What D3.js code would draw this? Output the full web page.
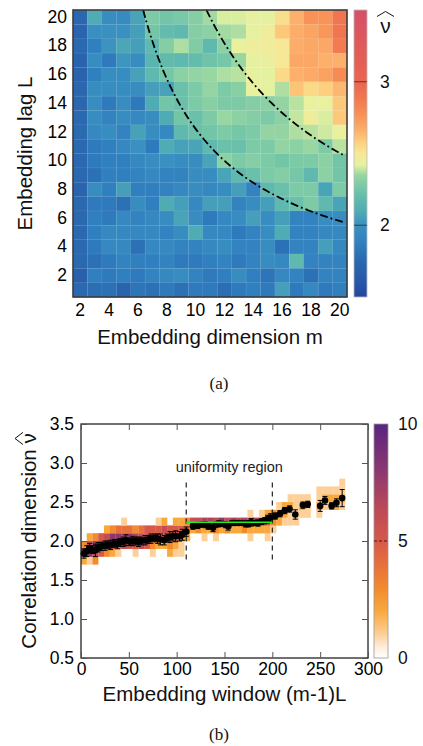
<!DOCTYPE html>
<html>
<head>
<meta charset="utf-8">
<script src="https://cdn.jsdelivr.net/npm/d3@7"></script>
<style>
body { margin: 0; background: #fff; }
</style>
</head>
<body>
<svg id="fig" width="423" height="746" font-family='"Liberation Sans", Arial, sans-serif'></svg>
<script>
// ---------- panel (a): heatmap data ----------
var dims = d3.range(2, 21);          // embedding dimension m
var lags = d3.range(1, 21);          // embedding lag L
var dimTicks = [2, 4, 6, 8, 10, 12, 14, 16, 18, 20];
var lagTicks = [2, 4, 6, 8, 10, 12, 14, 16, 18, 20];
// rows from L = 20 (top) down to L = 1, columns m = 2..20
var nuGrid = [
  [1.74,2.10,1.98,1.96,2.07,2.28,2.25,2.27,2.30,2.36,2.41,2.41,2.43,2.43,2.53,2.66,2.77,2.76,2.90],
  [1.72,1.99,2.00,2.00,2.05,2.25,2.20,2.18,2.30,2.32,2.36,2.37,2.43,2.47,2.60,2.67,2.70,2.75,2.90],
  [1.75,1.88,2.01,2.08,2.05,2.18,2.30,2.37,2.29,2.18,2.32,2.44,2.46,2.47,2.50,2.67,2.69,2.69,2.87],
  [1.70,1.98,1.85,2.02,1.98,2.15,2.19,2.18,2.20,2.24,2.26,2.35,2.43,2.45,2.50,2.69,2.69,2.66,2.66],
  [1.70,1.88,1.98,1.98,2.06,2.18,2.26,2.32,2.34,2.35,2.37,2.38,2.43,2.42,2.55,2.66,2.68,2.71,2.80],
  [1.74,1.98,1.98,1.98,1.97,2.05,2.06,2.22,2.28,2.34,2.28,2.31,2.44,2.43,2.37,2.61,2.55,2.58,2.64],
  [1.74,1.98,1.85,1.98,1.84,2.10,2.25,2.22,2.28,2.31,2.28,2.28,2.30,2.32,2.34,2.38,2.44,2.44,2.60],
  [1.75,1.98,1.90,1.98,1.95,1.98,2.10,2.25,2.22,2.28,2.35,2.32,2.30,2.28,2.32,2.39,2.47,2.41,2.60],
  [1.76,1.95,1.98,1.90,2.06,1.98,1.95,2.18,2.22,2.25,2.28,2.26,2.28,2.34,2.34,2.37,2.38,2.40,2.44],
  [1.75,1.85,1.88,1.95,2.00,1.85,2.10,2.06,2.07,2.18,2.22,2.22,2.28,2.28,2.34,2.32,2.35,2.28,2.38],
  [1.75,1.85,1.88,1.88,1.95,1.98,2.00,1.98,1.98,2.07,2.32,2.28,2.30,2.28,2.25,2.28,2.28,2.32,2.25],
  [1.75,1.80,1.88,1.88,1.90,1.95,1.90,1.90,1.98,1.98,2.07,2.18,2.22,2.28,2.30,2.26,2.18,2.32,2.25],
  [1.72,1.98,1.88,2.05,1.88,1.88,1.90,1.95,1.98,1.95,1.98,2.05,1.90,2.18,2.22,2.28,2.28,2.07,2.28],
  [1.75,1.85,1.85,1.80,1.98,1.88,2.10,2.05,1.95,2.05,2.05,1.90,1.98,2.05,2.18,2.22,2.28,2.18,2.07],
  [1.75,1.88,1.85,1.95,1.90,1.95,1.98,2.07,1.98,1.85,1.95,1.98,2.05,1.98,2.05,1.90,1.90,1.98,1.98],
  [1.75,1.88,1.95,1.95,1.95,1.95,1.90,1.98,2.10,1.95,1.95,1.85,1.90,1.98,2.10,1.90,1.90,1.95,1.95],
  [1.75,1.85,1.95,1.95,1.80,1.95,1.95,1.90,1.90,1.95,1.98,1.90,1.90,1.98,1.80,1.90,1.90,2.05,1.95],
  [1.75,1.80,1.85,1.90,1.88,1.88,1.90,1.85,1.85,1.88,1.90,1.85,1.90,1.98,1.95,2.18,1.90,1.90,1.90],
  [1.68,1.88,1.85,1.88,1.85,1.90,1.95,1.98,1.90,1.85,1.88,1.98,1.88,1.82,1.95,1.90,1.80,1.90,1.90],
  [1.75,1.78,1.80,1.72,1.82,1.80,1.85,1.80,1.85,1.85,1.78,1.85,1.88,1.85,2.05,1.85,1.95,1.85,1.88]
];
var windowCurves = [110, 200];   // (m-1)L = const guide curves
var nuBarTicks = [2, 3];
var nuStops  = [1.5, 1.6, 1.75, 1.88, 2.0, 2.1, 2.2, 2.28, 2.35, 2.42, 2.5, 2.58, 2.66, 2.76, 2.88, 3.0, 3.25, 3.5];
var nuColors = ["#2446a0","#2856a8","#2a68b0","#3080c0","#3a90c0","#50acb4","#64bcac","#7ccaa6","#98d6a2",
                "#e4f2a0","#f6e896","#fcd07e","#fcb06c","#f89458","#f27850","#ec6450","#e05a5a","#d64f6a"];

// ---------- panel (b): histogram + means ----------
var histX  = [0,6,12,18,24,30,36,42,48,54,60,66,72,78,84,90,96,102,108,114,120,126,132,138,144,150,156,162,168,174,180,186,192,198,204,210,216,222,228,234,246,252,258,264,270];
var histY0 = [1.7,1.7,1.7,1.8,1.8,1.8,1.8,1.9,1.9,1.8,1.9,1.9,1.8,1.9,1.9,1.8,1.8,1.8,2.0,2.1,2.1,2.0,2.1,2.0,2.1,2.1,2.1,2.1,2.1,2.0,2.1,2.1,2.0,2.1,2.2,2.2,2.2,2.2,2.3,2.3,2.3,2.4,2.4,2.4,2.4];
var histN  = [
  [2,9,3],[1,8,6,2],[3,6,8,3],[5,9,5],[3,7,6,2],[2,6,8,3],[1,5,8,4],[6,7,4,1],[5,8,4],[1,5,7,3],
  [6,6,4],[5,6,5],[1,3,6,5],[2,6,5,1],[2,5,6,2],[2,3,5,5],[1,2,4,5,2],[1,1,3,5,2],[2,4,3],
  [2,6],[3,6],[1,2,7],[2,7],[1,3,6],[2,8],[3,6],[2,7],[2,6],[3,7],[1,2,7,1],[2,7],[2,6,1],[1,2,5,2],
  [1,3,3],[2,2,1],[1,2,2],[1,1,2,1],[1,1,1,1],[1,2,1],[1,1,1],[1,2,1,1],[1,2,1],[1,2,1],[2,2,1],[1,2,1,1]
];
var histBinW = 6, histBinH = 0.1;
var winX = [3,6,9,12,15,18,21,25,28,31,35,38,41,44,47,51,54,57,60,63,67,70,73,77,80,83,87,90,93,96,99,103,106,110,
  117,122,126,130,133,138,141,144,148,151,154,158,161,165,168,172,175,178,182,185,189,192,195,198,
  203,208,213,218,224,232,237,250,255,262,267,273];
var nuMean = [1.84,1.87,1.91,1.89,1.88,1.92,1.93,1.94,1.95,1.95,1.97,1.96,1.98,1.99,2.01,1.99,2.00,2.00,1.99,2.00,
  2.01,2.02,2.03,2.04,2.03,2.02,2.01,2.04,2.05,2.06,2.06,2.06,2.08,2.12,
  2.19,2.20,2.21,2.21,2.19,2.17,2.21,2.22,2.22,2.21,2.19,2.23,2.23,2.23,2.23,2.22,2.22,2.24,2.23,2.23,2.25,2.26,2.28,2.30,
  2.32,2.35,2.39,2.41,2.34,2.46,2.47,2.45,2.52,2.45,2.49,2.55];
var nuErr = [0.06,0.07,0.06,0.05,0.08,0.06,0.05,0.06,0.05,0.06,0.05,0.06,0.05,0.06,0.07,0.05,0.06,0.05,0.06,0.05,
  0.06,0.05,0.06,0.05,0.06,0.07,0.06,0.05,0.07,0.06,0.07,0.06,0.07,0.06,
  0.04,0.04,0.03,0.04,0.04,0.05,0.03,0.04,0.03,0.04,0.05,0.03,0.03,0.03,0.03,0.04,0.04,0.05,0.03,0.04,0.04,0.04,0.05,0.05,
  0.04,0.04,0.04,0.04,0.06,0.04,0.04,0.07,0.05,0.04,0.05,0.11];
var regionBounds = [110, 200];
var regionLevel = 2.24;
var winTicks = [0, 50, 100, 150, 200, 250, 300];
var nuTicks = [0.5, 1.0, 1.5, 2.0, 2.5, 3.0, 3.5];
var cntTicks = [0, 5, 10];
var cntStops  = [0, 0.5, 1, 2, 3, 4, 5, 6.5, 8, 10];
var cntColors = ["#ffffff","#feecd8","#fdd09a","#f9a83c","#f28a2e","#e8703a","#d85848","#b8485a","#8c3870","#5a2480"];

var FONT = '"Liberation Sans", Arial, sans-serif';
var SERIF = '"Liberation Serif", "Times New Roman", serif';
var svg = d3.select("#fig");
var defs = svg.append("defs");

function hat(g, x0, x1, yBase, yPeak) {
  g.append("path")
    .attr("d", "M" + x0 + "," + yBase + "L" + (x0 + x1) / 2 + "," + yPeak + "L" + x1 + "," + yBase)
    .attr("fill", "none").attr("stroke", "#111").attr("stroke-width", 1);
}

// ================= panel (a) =================
var A = {l: 73, r: 347, t: 10, b: 297};
var xa = d3.scaleBand().domain(dims).range([A.l, A.r]);
var ya = d3.scaleBand().domain(lags).range([A.b, A.t]);
var nuColor = d3.scaleLinear().domain(nuStops).range(nuColors).clamp(true);

var cells = [];
nuGrid.forEach(function(row, i) {
  row.forEach(function(v, j) { cells.push({m: dims[j], L: lags[lags.length - 1 - i], v: v}); });
});
svg.append("g").selectAll("rect").data(cells).join("rect")
  .attr("x", d => xa(d.m)).attr("y", d => ya(d.L))
  .attr("width", xa.bandwidth() + 0.3).attr("height", ya.bandwidth() + 0.3)
  .attr("fill", d => nuColor(d.v))
  .attr("stroke", "rgba(255,255,255,0.13)").attr("stroke-width", 0.6);

// guide curves (m-1)L = const
var mx = d3.scaleLinear().domain([1.5, 20.5]).range([A.l, A.r]);
var ly = d3.scaleLinear().domain([0.5, 20.5]).range([A.b, A.t]);
var curveEnd = 20.2;
windowCurves.forEach(function(c) {
  var m0 = 1 + c / 20.5;
  var pts = d3.range(0, 121).map(k => {
    var m = m0 + (curveEnd - m0) * k / 120;
    return [m, c / (m - 1)];
  });
  svg.append("path")
    .attr("d", d3.line(p => mx(p[0]), p => ly(p[1]))(pts))
    .attr("fill", "none").attr("stroke", "#000").attr("stroke-width", 1.8)
    .attr("stroke-dasharray", "8,3,1.8,3");
});

svg.append("rect").attr("x", A.l).attr("y", A.t).attr("width", A.r - A.l).attr("height", A.b - A.t)
  .attr("fill", "none").attr("stroke", "#3c3c3c").attr("stroke-width", 1.6);

svg.append("g").attr("transform", "translate(" + A.l + ",0)")
  .call(d3.axisLeft(ya).tickValues(lagTicks).tickSize(0).tickPadding(6))
  .call(g => g.select(".domain").remove())
  .attr("font-size", 17.5).attr("font-family", FONT);
svg.append("g").attr("transform", "translate(0," + A.b + ")")
  .call(d3.axisBottom(xa).tickValues(dimTicks).tickSize(0).tickPadding(7))
  .call(g => g.select(".domain").remove())
  .attr("font-size", 17.5).attr("font-family", FONT);

svg.append("text").attr("transform", "translate(31.5,153.5) rotate(-90)")
  .attr("text-anchor", "middle").attr("font-size", 20.5).attr("fill", "#111").text("Embedding lag L");
svg.append("text").attr("x", 210).attr("y", 344)
  .attr("text-anchor", "middle").attr("font-size", 20.5).attr("fill", "#111").text("Embedding dimension m");
svg.append("text").attr("x", 219).attr("y", 389).attr("text-anchor", "middle")
  .attr("font-family", SERIF).attr("font-size", 17).attr("fill", "#111").text("(a)");

// colour bar (a)
var cbA = {x: 354, w: 13};
var nuBar = d3.scaleLinear().domain([1.5, 3.5]).range([A.b, A.t]);
var gradA = defs.append("linearGradient").attr("id", "gradA")
  .attr("x1", 0).attr("y1", 1).attr("x2", 0).attr("y2", 0);
nuStops.forEach((s, i) => gradA.append("stop").attr("offset", (s - 1.5) / 2).attr("stop-color", nuColors[i]));
svg.append("rect").attr("x", cbA.x).attr("y", A.t).attr("width", cbA.w).attr("height", A.b - A.t)
  .attr("fill", "url(#gradA)").attr("stroke", "#b8b8b8").attr("stroke-width", 0.8);
nuBarTicks.forEach(function(t) {
  svg.append("line").attr("x1", cbA.x).attr("x2", cbA.x + cbA.w).attr("y1", nuBar(t)).attr("y2", nuBar(t))
    .attr("stroke", "#3a2a2a").attr("stroke-opacity", 0.8).attr("stroke-width", 1);
  svg.append("text").attr("x", 380).attr("y", nuBar(t)).attr("dy", "0.35em")
    .attr("font-size", 17.5).attr("fill", "#111").text(t);
});
svg.append("text").attr("x", 385.5).attr("y", 33).attr("text-anchor", "middle")
  .attr("font-size", 21).attr("fill", "#111").text("ν");
hat(svg, 377, 394, 16.5, 11.5);

// ================= panel (b) =================
var B = {l: 81, r: 368, t: 424, b: 658};
var xb = d3.scaleLinear().domain([0, 300]).range([B.l, B.r]);
var yb = d3.scaleLinear().domain([0.5, 3.5]).range([B.b, B.t]);
var cntColor = d3.scaleLinear().domain(cntStops).range(cntColors).clamp(true);

var hcells = [];
histX.forEach(function(x0, i) {
  histN[i].forEach(function(n, j) {
    if (n > 0) hcells.push({x: x0, y: histY0[i] + j * histBinH, n: n});
  });
});
svg.append("g").selectAll("rect").data(hcells).join("rect")
  .attr("x", d => xb(d.x)).attr("width", d => xb(d.x + histBinW) - xb(d.x) + 0.2)
  .attr("y", d => yb(d.y + histBinH)).attr("height", d => yb(d.y) - yb(d.y + histBinH) + 0.2)
  .attr("fill", d => cntColor(d.n));

// uniformity region markers
regionBounds.forEach(function(x) {
  svg.append("line").attr("x1", xb(x)).attr("x2", xb(x)).attr("y1", yb(2.75)).attr("y2", yb(1.73))
    .attr("stroke", "#222").attr("stroke-width", 1.2).attr("stroke-dasharray", "5,4");
});
svg.append("text").attr("x", xb(155)).attr("y", 471.5).attr("text-anchor", "middle")
  .attr("font-size", 14.5).attr("fill", "#222").text("uniformity region");

// error bars + means
var pts = winX.map((x, i) => ({x: x, y: nuMean[i], e: nuErr[i]}));
var eb = svg.append("g").attr("stroke", "#000").attr("stroke-width", 1);
pts.forEach(function(d) {
  var x = xb(d.x), y0 = yb(d.y - d.e), y1 = yb(d.y + d.e);
  eb.append("line").attr("x1", x).attr("x2", x).attr("y1", y0).attr("y2", y1);
  eb.append("line").attr("x1", x - 2.5).attr("x2", x + 2.5).attr("y1", y0).attr("y2", y0);
  eb.append("line").attr("x1", x - 2.5).attr("x2", x + 2.5).attr("y1", y1).attr("y2", y1);
});
svg.append("g").selectAll("circle").data(pts).join("circle")
  .attr("cx", d => xb(d.x)).attr("cy", d => yb(d.y)).attr("r", 3.3).attr("fill", "#000");

svg.append("line").attr("x1", xb(regionBounds[0])).attr("x2", xb(regionBounds[1]))
  .attr("y1", yb(regionLevel)).attr("y2", yb(regionLevel))
  .attr("stroke", "#22ee22").attr("stroke-width", 1.4);

// frame and axes (b)
svg.append("rect").attr("x", B.l).attr("y", B.t).attr("width", B.r - B.l).attr("height", B.b - B.t)
  .attr("fill", "none").attr("stroke", "#111").attr("stroke-width", 1.2);
function styleAxis(g) {
  g.select(".domain").remove();
  g.selectAll(".tick line").attr("stroke", "#555");
  g.attr("font-size", 17.5).attr("font-family", FONT);
}
svg.append("g").attr("transform", "translate(0," + B.b + ")")
  .call(d3.axisBottom(xb).tickValues(winTicks).tickSizeInner(-6).tickSizeOuter(0).tickPadding(5))
  .call(styleAxis);
svg.append("g").attr("transform", "translate(0," + B.t + ")")
  .call(d3.axisTop(xb).tickValues(winTicks).tickSizeInner(-6).tickSizeOuter(0).tickFormat(() => ""))
  .call(styleAxis);
svg.append("g").attr("transform", "translate(" + B.l + ",0)")
  .call(d3.axisLeft(yb).tickValues(nuTicks).tickSizeInner(-6).tickSizeOuter(0).tickPadding(7).tickFormat(d3.format(".1f")))
  .call(styleAxis);
svg.append("g").attr("transform", "translate(" + B.r + ",0)")
  .call(d3.axisRight(yb).tickValues(nuTicks).tickSizeInner(-6).tickSizeOuter(0).tickFormat(() => ""))
  .call(styleAxis);

svg.append("text").attr("x", (B.l + B.r) / 2).attr("y", 701)
  .attr("text-anchor", "middle").attr("font-size", 20.5).attr("fill", "#111").text("Embedding window (m-1)L");
var yl = svg.append("g").attr("transform", "translate(36," + (B.t + B.b) / 2 + ") rotate(-90)");
var ylt = yl.append("text").attr("text-anchor", "middle").attr("font-size", 20.5).attr("fill", "#111")
  .text("Correlation dimension ν");
var lastIdx = ylt.text().length - 1;
var ext = ylt.node().getExtentOfChar(lastIdx);
hat(yl, ext.x - 1, ext.x + ext.width + 1, -13, -21);
svg.append("text").attr("x", 219).attr("y", 740).attr("text-anchor", "middle")
  .attr("font-family", SERIF).attr("font-size", 17).attr("fill", "#111").text("(b)");

// colour bar (b)
var cbB = {x: 374, w: 14};
var cntBar = d3.scaleLinear().domain([0, 10]).range([B.b, B.t]);
var gradB = defs.append("linearGradient").attr("id", "gradB")
  .attr("x1", 0).attr("y1", 1).attr("x2", 0).attr("y2", 0);
cntStops.forEach((s, i) => gradB.append("stop").attr("offset", s / 10).attr("stop-color", cntColors[i]));
svg.append("rect").attr("x", cbB.x).attr("y", B.t).attr("width", cbB.w).attr("height", B.b - B.t)
  .attr("fill", "url(#gradB)").attr("stroke", "#999").attr("stroke-width", 0.8);
svg.append("line").attr("x1", cbB.x).attr("x2", cbB.x + cbB.w).attr("y1", cntBar(5)).attr("y2", cntBar(5))
  .attr("stroke", "#3a2020").attr("stroke-width", 1).attr("stroke-dasharray", "3,2");
cntTicks.forEach(function(t) {
  svg.append("text").attr("x", 398).attr("y", cntBar(t)).attr("dy", "0.35em")
    .attr("font-size", 17.5).attr("fill", "#111").text(t);
});
</script>
</body>
</html>
